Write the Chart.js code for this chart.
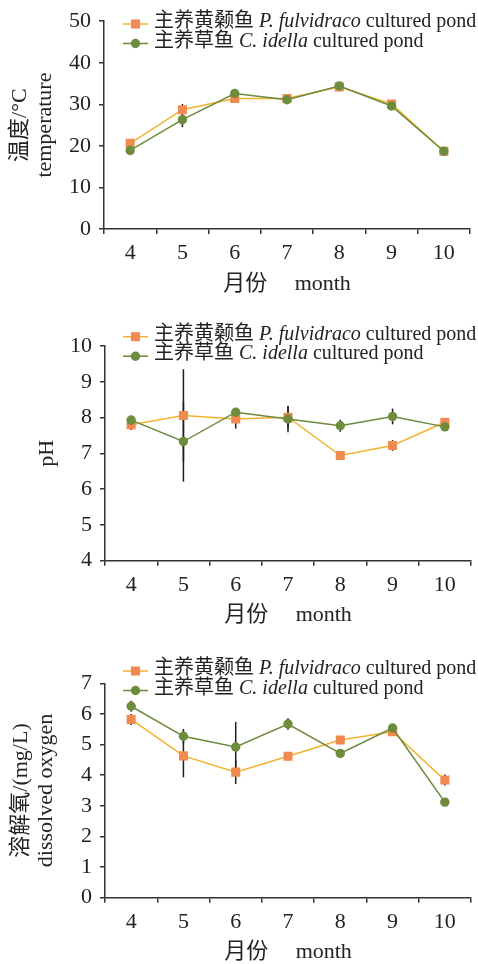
<!DOCTYPE html>
<html>
<head>
<meta charset="utf-8">
<script src="https://cdn.jsdelivr.net/npm/chart.js@4/dist/chart.umd.min.js"></script>
<style>
  html, body { margin: 0; padding: 0; background: #fff; overflow: hidden; width: 478px; height: 964px; }
  canvas { position: absolute; left: 0; display: block; }
</style>
</head>
<body>
<canvas id="tempChart" width="478" height="310" style="top:0"></canvas>
<canvas id="phChart" width="478" height="330" style="top:310px"></canvas>
<canvas id="doChart" width="478" height="330" style="top:640px"></canvas>
<script>
// Sampling months
const months = ['4', '5', '6', '7', '8', '9', '10'];

// Legend names: [Chinese, italic species, suffix]
const pondPf = ['主养黄颡鱼 ', 'P. fulvidraco', ' cultured pond'];
const pondCi = ['主养草鱼 ', 'C. idella', ' cultured pond'];

// Water temperature (°C), mean and SD
const tempPf = [20.6, 28.7, 31.4, 31.4, 34.2, 30.1, 18.7];
const tempCi = [18.9, 26.3, 32.6, 31.1, 34.4, 29.6, 18.7];
const tempPfSd = [0.3, 1.4, 0.3, 0.3, 0.3, 0.3, 0.2];
const tempCiSd = [0.3, 1.8, 0.3, 0.3, 0.3, 0.3, 0.2];

// pH, mean and SD
const phPf = [7.80, 8.06, 7.96, 8.01, 6.94, 7.22, 7.87];
const phCi = [7.93, 7.33, 8.15, 7.96, 7.77, 8.03, 7.74];
const phPfSd = [0.15, 1.29, 0.27, 0.30, 0.05, 0.15, 0.10];
const phCiSd = [0.05, 1.12, 0.10, 0.37, 0.17, 0.22, 0.03];

// Dissolved oxygen (mg/L), mean and SD
const doPf = [5.82, 4.63, 4.10, 4.62, 5.15, 5.42, 3.84];
const doCi = [6.25, 5.27, 4.92, 5.67, 4.71, 5.54, 3.12];
const doPfSd = [0.18, 0.70, 0.39, 0.05, 0.05, 0.05, 0.18];
const doCiSd = [0.18, 0.24, 0.82, 0.19, 0.05, 0.05, 0.05];

const SERIF = "'Liberation Serif', 'Times New Roman', 'Noto Sans CJK SC', serif";
const INK = '#222';
const AXIS = '#333';
const PF_LINE = '#f5b12e', PF_MARK = '#f08a50';
const CI_LINE = '#6b8a3a', CI_MARK = '#6e8c3d';
const RECT_R = 6.4, DOT_R = 4.7;

// Vertical error bars, drawn under the markers through the chart's own scales
const errorBars = {
  id: 'errorBars',
  beforeDatasetsDraw(chart) {
    const { ctx, scales: { x, y } } = chart;
    ctx.save();
    ctx.strokeStyle = '#1e1e1e';
    ctx.lineWidth = 1.5;
    chart.data.datasets.forEach((ds) => {
      if (!ds.sd) return;
      ds.data.forEach((v, i) => {
        const e = ds.sd[i];
        if (!e) return;
        const px = x.getPixelForValue(i);
        ctx.beginPath();
        ctx.moveTo(px, y.getPixelForValue(v - e));
        ctx.lineTo(px, y.getPixelForValue(v + e));
        ctx.stroke();
      });
    });
    ctx.restore();
  }
};

// Two-row legend with an italic species name in each entry
const pondLegend = {
  id: 'pondLegend',
  afterDraw(chart, args, opts) {
    const { ctx } = chart;
    const rows = [
      { parts: pondPf, line: PF_LINE, mark: PF_MARK, style: 'rect' },
      { parts: pondCi, line: CI_LINE, mark: CI_MARK, style: 'circle' }
    ];
    ctx.save();
    rows.forEach((r, k) => {
      const y = opts.y + k * opts.gap;
      ctx.strokeStyle = r.line;
      ctx.lineWidth = 1.5;
      ctx.beginPath();
      ctx.moveTo(123, y);
      ctx.lineTo(148, y);
      ctx.stroke();
      ctx.fillStyle = r.mark;
      if (r.style === 'rect') {
        const h = RECT_R * Math.SQRT1_2;
        ctx.fillRect(135.5 - h, y - h, 2 * h, 2 * h);
      } else {
        ctx.beginPath();
        ctx.arc(135.5, y, DOT_R, 0, Math.PI * 2);
        ctx.fill();
      }
      let tx = 154;
      ctx.fillStyle = INK;
      ctx.textBaseline = 'middle';
      ctx.textAlign = 'left';
      r.parts.forEach((p, j) => {
        ctx.font = (j === 1 ? 'italic ' : '') + '20px ' + SERIF;
        ctx.fillText(p, tx, y - 2);
        tx += ctx.measureText(p).width;
      });
    });
    ctx.restore();
  }
};

function makeChart(id, cfg) {
  return new Chart(document.getElementById(id), {
    type: 'line',
    data: {
      labels: months,
      datasets: [
        {
          data: cfg.ci, sd: cfg.ciSd, order: 0,
          borderColor: CI_LINE, borderWidth: 1.5,
          pointStyle: 'circle', pointRadius: DOT_R,
          pointBackgroundColor: CI_MARK, pointBorderWidth: 0
        },
        {
          data: cfg.pf, sd: cfg.pfSd, order: 1,
          borderColor: PF_LINE, borderWidth: 1.5,
          pointStyle: 'rect', pointRadius: RECT_R,
          pointBackgroundColor: PF_MARK, pointBorderWidth: 0
        }
      ]
    },
    options: {
      responsive: false,
      animation: false,
      events: [],
      layout: { padding: cfg.padding },
      plugins: {
        legend: { display: false },
        tooltip: { enabled: false },
        pondLegend: { y: cfg.legendY, gap: 19.5 }
      },
      scales: {
        x: {
          type: 'category',
          offset: true,
          grid: { display: true, drawOnChartArea: false, drawTicks: true, tickLength: 5, color: AXIS, lineWidth: 1.5, offset: true },
          border: { display: true, color: AXIS, width: 1.5 },
          ticks: { color: INK, padding: 6, font: { family: SERIF, size: 22 } },
          title: {
            display: true, text: '月份\u3000 month', color: INK,
            font: { family: SERIF, size: 22, lineHeight: '25px' },
            padding: { top: 0, bottom: 2.5 }
          },
          afterFit(s) { s.height = 70; }
        },
        y: {
          min: cfg.min, max: cfg.max,
          grid: { display: true, drawOnChartArea: false, drawTicks: true, tickLength: 5, color: AXIS, lineWidth: 1.5 },
          border: { display: true, color: AXIS, width: 1.5 },
          ticks: { stepSize: cfg.step, color: INK, padding: 8, font: { family: SERIF, size: 22 } },
          title: {
            display: true, text: cfg.title, color: INK,
            font: { family: SERIF, size: 22, lineHeight: '25px' },
            padding: { top: cfg.titlePad, bottom: 0 }
          },
          afterFit(s) { s.width = cfg.axisWidth; }
        }
      }
    },
    plugins: [errorBars, pondLegend]
  });
}

makeChart('tempChart', {
  pf: tempPf, ci: tempCi, pfSd: tempPfSd, ciSd: tempCiSd,
  min: 0, max: 50, step: 10,
  title: ['温度/°C', 'temperature'], titlePad: 7.5,
  padding: { top: 15, right: 8, bottom: 11, left: 0 },
  axisWidth: 104, legendY: 24
});

makeChart('phChart', {
  pf: phPf, ci: phCi, pfSd: phPfSd, ciSd: phCiSd,
  min: 4, max: 10, step: 1,
  title: 'pH', titlePad: 34.5,
  padding: { top: 36, right: 7, bottom: 9.3, left: 0 },
  axisWidth: 105, legendY: 26.7
});

makeChart('doChart', {
  pf: doPf, ci: doCi, pfSd: doPfSd, ciSd: doCiSd,
  min: 0, max: 7, step: 1,
  title: ['溶解氧/(mg/L)', 'dissolved oxygen'], titlePad: 9.2,
  padding: { top: 43.3, right: 7, bottom: 2.3, left: 0 },
  axisWidth: 105, legendY: 31
});
</script>
</body>
</html>
